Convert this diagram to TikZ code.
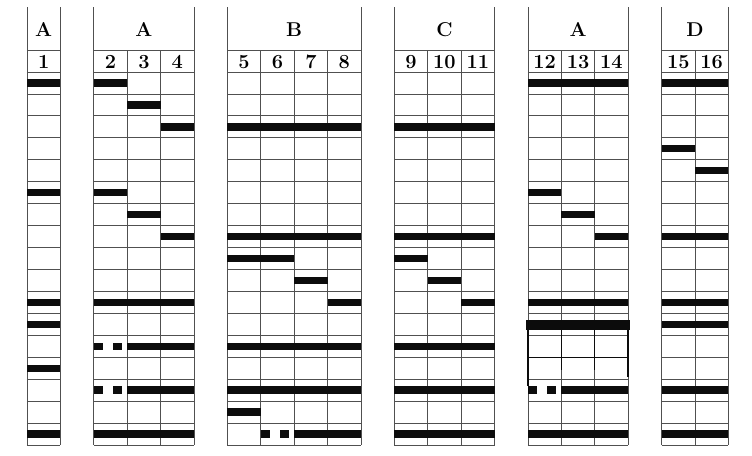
\documentclass[tikz,border=0pt]{standalone}
\usepackage{tikz}
\usetikzlibrary{positioning,calc}
\definecolor{gridgray}{RGB}{80,80,80}
\definecolor{bandblack}{RGB}{12,12,12}
\tikzset{
  gridline/.style={gridgray,line width=0.6pt},
  band/.style={fill=bandblack},
  grouplabel/.style={font=\fontsize{15}{17}\selectfont\bfseries,inner sep=0pt},
  lanelabel/.style={font=\fontsize{15}{17}\selectfont\bfseries,inner sep=0pt}
}

\begin{document}
\begin{tikzpicture}[x=25.05pt,y=-16.455pt]
    \useasboundingbox (-0.808,-3.282) rectangle (21.707,17.457);
    % lane groups: first column / lanes / label / first lane number
    \foreach \first/\n/\lbl/\num [count=\g] in {0/1/A/1, 2/3/A/2, 6/4/B/5, 11/3/C/9, 15/3/A/12, 19/2/D/15}{
        \draw[gridline] (\first,-2.96) -- (\first,-1) (\first+\n,-2.96) -- (\first+\n,-1);
        \foreach \r in {-1,0,...,17} \draw[gridline] (\first,\r) -- (\first+\n,\r);
        \foreach \k in {0,...,\n} \draw[gridline] (\first+\k,-1) -- (\first+\k,17);
        \node[grouplabel] (group\g) at (\first+\n/2,-1.92) {\lbl};
        \foreach \k in {1,...,\n}{
            \pgfmathtruncatemacro{\lane}{\num+\k-1}
            \node[lanelabel] (lane\lane) at (\first+\k-0.5,-0.45) {\lane};
        }
    }
    % bands: column / rows
    \foreach \c/\rows in {0/{1,6,11,12,14,17}, 2/{1,6,11,17}, 3/{2,7,11,13,15,17}, 4/{3,8,11,13,15,17},
        6/{3,8,9,13,15,16}, 7/{3,8,9,13,15}, 8/{3,8,10,13,15,17}, 9/{3,8,11,13,15,17},
        11/{3,8,9,13,15,17}, 12/{3,8,10,13,15,17}, 13/{3,8,11,13,15,17},
        15/{1,6,11,17}, 16/{1,7,11,15,17}, 17/{1,8,11,15,17},
        19/{1,4,8,11,12,15,17}, 20/{1,5,8,11,12,15,17}}
        \foreach \r in \rows \fill[band] (\c,\r-0.668) rectangle (\c+1,\r-0.332);
    % broken bands
    \foreach \c/\r in {2/13, 2/15, 7/17, 15/15}{
        \fill[band] (\c+0.01,\r-0.668) rectangle (\c+0.28,\r-0.332);
        \fill[band] (\c+0.57,\r-0.668) rectangle (\c+0.84,\r-0.332);
    }
    % heavy band and frame in lanes 12-14
    \fill[band] (14.94,11.28) rectangle (18.06,11.76);
    \draw[bandblack,line width=1.3pt] (15,11.3) -- (15,14.3) (18,11.3) -- (18,13.9);
    \draw[bandblack,line width=0.8pt] (16,11.3) -- (16,13.6) (17,11.3) -- (17,13.6) (15,13) -- (18,13);
\end{tikzpicture}
\end{document}
